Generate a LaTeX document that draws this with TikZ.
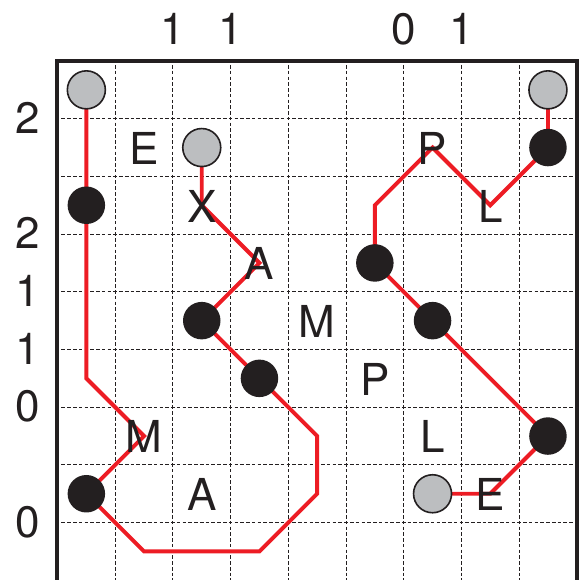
\documentclass[tikz,border=0pt]{standalone}
\usepackage{fontspec}
\setmainfont{TeX Gyre Heros}
\pgfdeclarelayer{bg}
\pgfdeclarelayer{lines}
\pgfsetlayers{bg,lines,main}
\definecolor{pathred}{HTML}{ED1C24}
\definecolor{dotgray}{HTML}{BCBEC0}
\definecolor{ink}{HTML}{231F20}
\begin{document}
\begin{tikzpicture}[x=57.7pt,y=-57.7pt,
  gridline/.style={ink, line width=1pt, dash pattern=on 3.6pt off 2.17pt, dash phase=1.8pt},
  frame/.style={ink, line width=4pt},
  route/.style={pathred, line width=3.9pt},
  start/.style={circle, draw=ink, line width=1.6pt, fill=dotgray, minimum size=38pt, inner sep=0pt},
  blackstone/.style={circle, fill=ink, minimum size=37.5pt, inner sep=0pt},
  letter/.style={font=\fontsize{44}{44}\selectfont, inner sep=0pt, text height=31.5pt, text depth=0pt, text=ink}
]
\useasboundingbox (-57.5pt,61pt) rectangle (524.5pt,-519pt);

% grid
\begin{pgfonlayer}{bg}
\foreach \i in {1,...,8} {
  \draw[gridline] (\i,0) -- (\i,9.2);
  \draw[gridline] (0,\i) -- (9,\i);
}
\draw[frame] (0,9.2) -- (0,0) -- (9,0) -- (9,9.2);
\end{pgfonlayer}

% circles
\node[start] (g1) at (0.5,0.5) {};
\node[start] (g2) at (2.5,1.5) {};
\node[start] (g3) at (8.5,0.5) {};
\node[start] (g4) at (6.5,7.5) {};
\node[blackstone] (b1) at (0.5,2.5) {};
\node[blackstone] (b2) at (8.5,1.5) {};
\node[blackstone] (b3) at (5.5,3.5) {};
\node[blackstone] (b4) at (2.5,4.5) {};
\node[blackstone] (b5) at (6.5,4.5) {};
\node[blackstone] (b6) at (3.5,5.5) {};
\node[blackstone] (b7) at (8.5,6.5) {};
\node[blackstone] (b8) at (0.5,7.5) {};

% letters in the grid
\node[letter] (lE1) at (1.5,1.52) {E};
\node[letter] (lX) at (2.5,2.52) {X};
\node[letter] (lA1) at (3.5,3.52) {A};
\node[letter] (lM1) at (4.5,4.52) {M};
\node[letter] (lP1) at (5.5,5.52) {P};
\node[letter] (lL1) at (6.5,6.52) {L};
\node[letter] (lA2) at (2.5,7.52) {A};
\node[letter] (lM2) at (1.5,6.52) {M};
\node[letter] (lP2) at (6.5,1.52) {P};
\node[letter] (lL2) at (7.5,2.52) {L};
\node[letter] (lE2) at (7.5,7.52) {E};

% clue numbers
\node[letter] (t1) at (2,-0.555) {1};
\node[letter] (t2) at (3,-0.555) {1};
\node[letter] (t3) at (6,-0.555) {0};
\node[letter] (t4) at (7,-0.555) {1};
\node[letter] (s1) at (-0.51,0.98) {2};
\node[letter] (s2) at (-0.51,2.98) {2};
\node[letter] (s3) at (-0.51,3.98) {1};
\node[letter] (s4) at (-0.51,4.98) {1};
\node[letter] (s5) at (-0.51,5.98) {0};
\node[letter] (s6) at (-0.51,7.98) {0};

% bend points
\coordinate (k1) at (0.5,5.5);
\coordinate (k2) at (1.5,8.5);
\coordinate (k3) at (3.5,8.5);
\coordinate (k4) at (4.5,7.5);
\coordinate (k5) at (4.5,6.5);
\coordinate (k6) at (5.5,2.5);
\coordinate (vM) at (1.5,6.5);
\coordinate (vA) at (3.5,3.5);
\coordinate (vX) at (2.5,2.5);
\coordinate (vL) at (7.5,2.5);
\coordinate (vP) at (6.5,1.5);
\coordinate (vE) at (7.5,7.5);

\begin{pgfonlayer}{lines}
\draw[route] (g1.center) -- (b1.center) -- (k1) -- (vM) -- (b8.center)
  -- (k2) -- (k3) -- (k4) -- (k5) -- (b6.center) -- (b4.center)
  -- (vA) -- (vX) -- (g2.center);
\draw[route] (g3.center) -- (b2.center) -- (vL) -- (vP) -- (k6)
  -- (b3.center) -- (b5.center) -- (b7.center) -- (vE) -- (g4.center);
\end{pgfonlayer}
\end{tikzpicture}
\end{document}
